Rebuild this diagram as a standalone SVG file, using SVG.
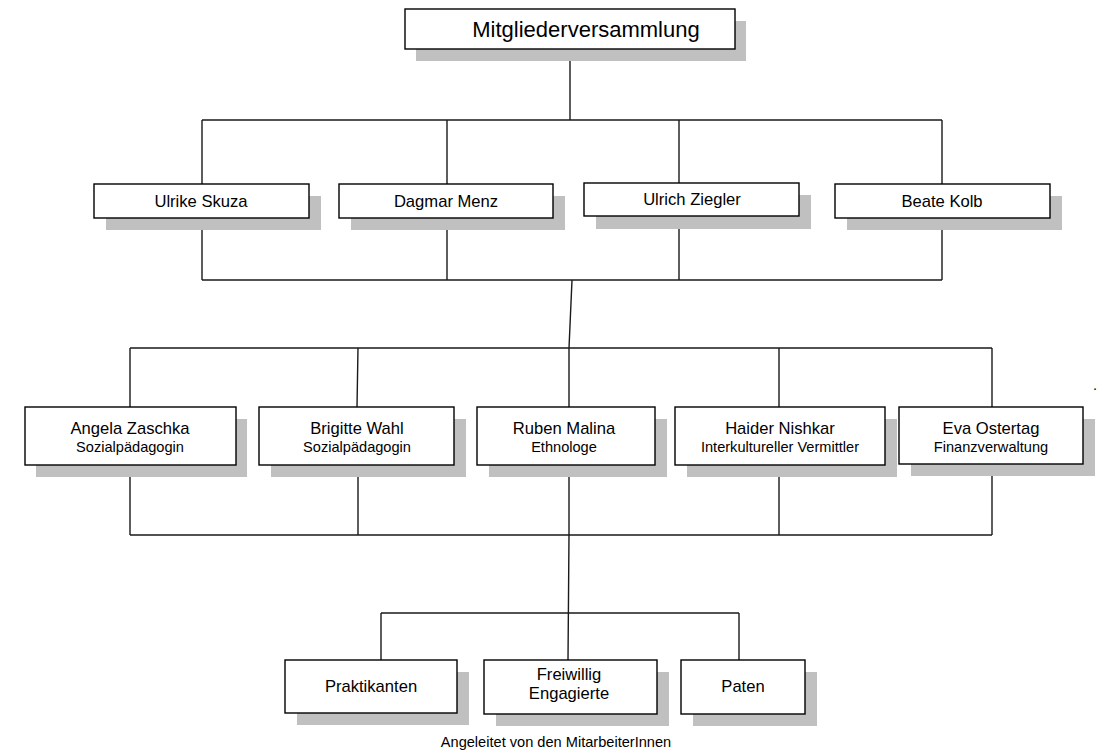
<svg xmlns="http://www.w3.org/2000/svg" width="1097" height="751" viewBox="0 0 1097 751">
<style>
.sh{fill:#c0c0c0;stroke:none}
.bx{fill:#fff;stroke:#000;stroke-width:1.4}
.ln{fill:none;stroke:#1a1a1a;stroke-width:1.4}
text{font-family:"Liberation Sans",Arial,sans-serif;fill:#000;text-anchor:middle}
.t0{font-size:22px}
.t1{font-size:16.6px}
.t2{font-size:14.6px}
</style>
<rect width="1097" height="751" fill="#fff"/>
<g id="connectors">
<path class="ln" d="M570 49V120M202 120H942M202 120V184M447 120V184M679 120V183M942 120V184"/>
<path class="ln" d="M202 218V280M447 218V280M679 216V280M942 218V280M202 280H942"/>
<path class="ln" d="M572 280L569 348M130 348H992M130 348V407M358 348L357 407M569 348V407M779 348V407M992 348V407"/>
<path class="ln" d="M130 465V535M358 465V535M569 465V535M779 465V535M992 464V535M130 535H992"/>
<path class="ln" d="M569 535L568 660M381 613H739M381 613V660M739 613V660"/>
</g>
<g id="n-mv">
<rect class="sh" x="416" y="21" width="330" height="40"/>
<rect class="bx" x="405" y="9" width="330" height="40"/>
<text class="t0" x="586" y="37">Mitgliederversammlung</text>
</g>
<g id="n-skuza">
<rect class="sh" x="106" y="196" width="215" height="34"/>
<rect class="bx" x="94" y="184" width="215" height="34"/>
<text class="t1" x="201" y="207">Ulrike Skuza</text>
</g>
<g id="n-menz">
<rect class="sh" x="351" y="196" width="214" height="34"/>
<rect class="bx" x="339" y="184" width="214" height="34"/>
<text class="t1" x="446" y="207">Dagmar Menz</text>
</g>
<g id="n-ziegler">
<rect class="sh" x="596" y="195" width="215" height="34"/>
<rect class="bx" x="584" y="183" width="215" height="33"/>
<text class="t1" x="692" y="205">Ulrich Ziegler</text>
</g>
<g id="n-kolb">
<rect class="sh" x="847" y="196" width="215" height="34"/>
<rect class="bx" x="835" y="184" width="215" height="34"/>
<text class="t1" x="942" y="207">Beate Kolb</text>
</g>
<g id="n-zaschka">
<rect class="sh" x="36" y="419" width="211" height="58"/>
<rect class="bx" x="25" y="407" width="211" height="58"/>
<text class="t1" x="130" y="434">Angela Zaschka</text>
<text class="t2" x="130" y="452">Sozialpädagogin</text>
</g>
<g id="n-wahl">
<rect class="sh" x="271" y="419" width="195" height="58"/>
<rect class="bx" x="259" y="407" width="195" height="58"/>
<text class="t1" x="357" y="434">Brigitte Wahl</text>
<text class="t2" x="357" y="452">Sozialpädagogin</text>
</g>
<g id="n-malina">
<rect class="sh" x="489" y="419" width="178" height="58"/>
<rect class="bx" x="477" y="407" width="178" height="58"/>
<text class="t1" x="564" y="434">Ruben Malina</text>
<text class="t2" x="564" y="452">Ethnologe</text>
</g>
<g id="n-nishkar">
<rect class="sh" x="687" y="419" width="210" height="58"/>
<rect class="bx" x="675" y="407" width="210" height="58"/>
<text class="t1" x="780" y="434">Haider Nishkar</text>
<text class="t2" x="780" y="452">Interkultureller Vermittler</text>
</g>
<g id="n-ostertag">
<rect class="sh" x="911" y="419" width="184" height="57"/>
<rect class="bx" x="899" y="407" width="184" height="57"/>
<text class="t1" x="991" y="434">Eva Ostertag</text>
<text class="t2" x="991" y="452">Finanzverwaltung</text>
</g>
<g id="n-praktikanten">
<rect class="sh" x="297" y="672" width="172" height="53"/>
<rect class="bx" x="285" y="660" width="172" height="53"/>
<text class="t1" x="371" y="692">Praktikanten</text>
</g>
<g id="n-freiwillig">
<rect class="sh" x="496" y="672" width="173" height="54"/>
<rect class="bx" x="484" y="660" width="173" height="54"/>
<text class="t1" x="569" y="680">Freiwillig</text>
<text class="t1" x="569" y="699">Engagierte</text>
</g>
<g id="n-paten">
<rect class="sh" x="693" y="672" width="124" height="54"/>
<rect class="bx" x="681" y="660" width="124" height="54"/>
<text class="t1" x="743" y="692">Paten</text>
</g>
<text class="t2" x="556" y="747">Angeleitet von den MitarbeiterInnen</text>
<text class="t2" x="1095" y="390">.</text>
</svg>
